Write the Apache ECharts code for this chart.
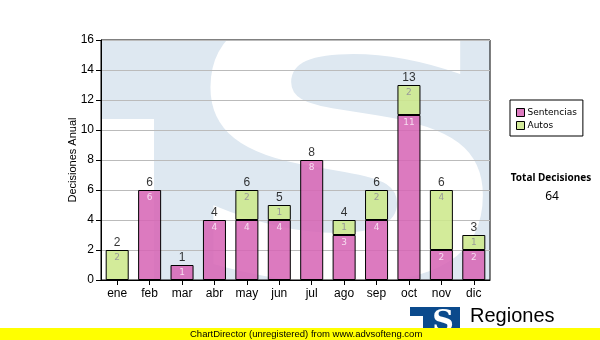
<!DOCTYPE html>
<html>
<head>
<meta charset="utf-8">
<script src="https://cdn.jsdelivr.net/npm/echarts@6/dist/echarts.min.js"></script>
<style>
html,body{margin:0;padding:0;background:#fff;}
#chart{width:600px;height:340px;}
</style>
</head>
<body>
<div id="chart"></div>
<script>
const months = ['ene','feb','mar','abr','may','jun','jul','ago','sep','oct','nov','dic'];
const sentencias = [0,6,1,4,4,4,8,3,4,11,2,2];
const autos = [2,0,0,0,2,1,0,1,2,2,4,1];
const yTicks = [0,2,4,6,8,10,12,14,16];
const totalLabel = 'Total Decisiones';

const totals = months.map((m,i) => sentencias[i] + autos[i]);
const grandTotal = totals.reduce((a,b) => a + b, 0);

const PINK = 'rgba(214,100,180,0.86)';
const GREEN = 'rgba(205,232,140,0.88)';
const WM = '#dee8f1';

const chart = echarts.init(document.getElementById('chart'), null, {renderer:'canvas'});

const option = {
  animation: false,
  backgroundColor: '#ffffff',
  grid: {left:101, right:110, top:40, bottom:60, show:true, borderColor:'#000', borderWidth:1, backgroundColor:'transparent'},
  legend: {
    data:['Sentencias','Autos'],
    orient:'vertical', left:510, top:100,
    borderColor:'#000', borderWidth:1, padding:[7,6,5,6],
    itemWidth:8, itemHeight:8, itemGap:2,
    icon:'rect',
    itemStyle:{borderColor:'#000', borderWidth:1},
    textStyle:{fontFamily:'DejaVu Sans', fontSize:9, color:'#000', lineHeight:11, padding:[0,0,0,-2]}
  },
  xAxis: {
    type:'category', data:months,
    axisLine:{lineStyle:{color:'#000', width:1}},
    axisTick:{show:true, alignWithLabel:true, length:5, lineStyle:{color:'#000'}},
    axisLabel:{color:'#000', fontFamily:'Liberation Sans', fontSize:12, margin:8}
  },
  yAxis: {
    type:'value', min:yTicks[0], max:yTicks[yTicks.length-1], interval:yTicks[1]-yTicks[0],
    name:'Decisiones Anual', nameLocation:'middle', nameGap:23, nameMoveOverlap:false,
    nameTextStyle:{color:'#000', fontFamily:'Liberation Sans', fontSize:11},
    axisLine:{show:true, lineStyle:{color:'#000', width:1}},
    axisTick:{show:true, length:5, lineStyle:{color:'#000'}},
    axisLabel:{color:'#000', fontFamily:'Liberation Sans', fontSize:12, margin:7},
    splitLine:{lineStyle:{color:'#bbbbbb', width:1}}
  },
  series: [
    {
      name:'Sentencias', type:'bar', stack:'t', data:sentencias.map(v => v === 0 ? null : v),
      barCategoryGap:'29%',
      itemStyle:{color:PINK, borderColor:'#000', borderWidth:1},
      label:{show:true, position:'insideTop', distance:3, fontSize:9, fontFamily:'DejaVu Sans', color:'#f6dcef'}
    },
    {
      name:'Autos', type:'bar', stack:'t', data:autos.map(v => v === 0 ? null : v),
      barCategoryGap:'29%',
      itemStyle:{color:GREEN, borderColor:'#000', borderWidth:1},
      label:{show:true, position:'insideTop', distance:3, fontSize:9, fontFamily:'DejaVu Sans', color:'#9a9a9a'}
    },
    {
      name:'Total', type:'scatter', data:totals, symbol:'circle', symbolSize:1, z:5,
      itemStyle:{color:'rgba(0,0,0,0)'},
      label:{show:true, position:'top', distance:1, fontSize:12, fontFamily:'Liberation Sans', color:'#000'},
      tooltip:{show:false}
    }
  ],
  graphic: [
    {type:'rect', z:-20, silent:true, shape:{x:101, y:40, width:389, height:240}, style:{fill:WM}},
    {type:'rect', z:-19, silent:true, shape:{x:101, y:119, width:53, height:161}, style:{fill:'#fff'}},
    {type:'text', z:-18, silent:true, x:347, y:182, scaleX:1.28, scaleY:1,
      style:{text:'S', font:'bold 370px "DejaVu Sans"', fill:'#fff', textAlign:'center', textVerticalAlign:'middle'}},
    {type:'rect', z:-15, silent:true, shape:{x:100, y:281, width:500, height:47}, style:{fill:'#fff'}},
    {type:'rect', z:-15, silent:true, shape:{x:491, y:0, width:109, height:328}, style:{fill:'#fff'}},
    {type:'rect', z:-15, silent:true, shape:{x:100, y:0, width:500, height:39}, style:{fill:'#fff'}},
    {type:'text', z:10, x:551, y:178, style:{text:totalLabel, font:'bold 10px "Noto Sans"', fill:'#000', textAlign:'center', textVerticalAlign:'middle'}},
    {type:'text', z:10, x:552, y:197, style:{text:String(grandTotal), font:'12px "Noto Sans"', fill:'#000', textAlign:'center', textVerticalAlign:'middle'}},
    // logo
    {type:'rect', z:10, shape:{x:410, y:307, width:50, height:25}, style:{fill:'#0b4a8c'}},
    {type:'rect', z:11, shape:{x:410, y:316, width:13, height:16}, style:{fill:'#fff'}},
    {type:'text', z:12, x:443, y:323, style:{text:'S', font:'bold 30px "DejaVu Serif"', fill:'#fff', textAlign:'center', textVerticalAlign:'middle'}},
    {type:'text', z:10, x:470, y:316, style:{text:'Regiones', font:'20px "Liberation Sans"', fill:'#000', textAlign:'left', textVerticalAlign:'middle'}},
    // footer
    {type:'rect', z:20, shape:{x:0, y:328, width:600, height:12}, style:{fill:'#ffff00'}},
    {type:'text', z:21, x:190, y:334, style:{text:'ChartDirector (unregistered) from www.advsofteng.com', font:'9.5px "Liberation Sans"', fill:'#000', textAlign:'left', textVerticalAlign:'middle'}}
  ]
};
chart.setOption(option);
</script>
</body>
</html>
